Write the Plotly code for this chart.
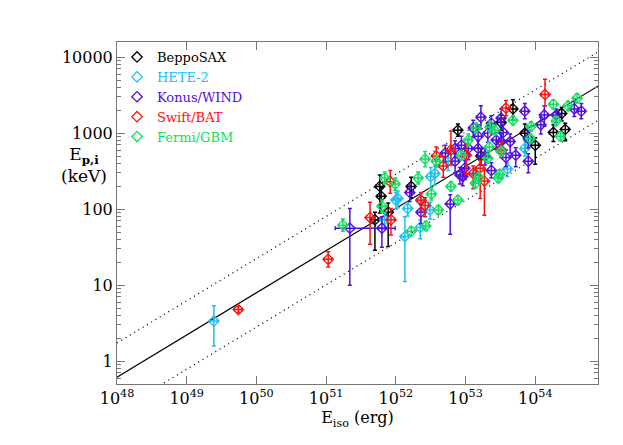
import plotly.graph_objects as go
import numpy as np

# log10(Eiso/erg), log10(Ep,i/keV), error up/down (dex)
sax_logE = [51.77, 51.79, 51.89, 51.70, 52.22, 52.89, 53.68, 53.51, 53.85, 54.00, 54.26, 54.38, 54.43, 53.22]
sax_logEp = [2.30, 2.17, 1.96, 1.86, 2.30, 3.04, 3.32, 3.14, 3.00, 2.84, 3.01, 3.26, 3.05, 2.70]
sax_eu = [0.15, 0.12, 0.12, 0.10, 0.12, 0.08, 0.12, 0.10, 0.12, 0.10, 0.10, 0.08, 0.08, 0.10]
sax_ed = [0.35, 0.20, 0.45, 0.40, 0.15, 0.08, 0.15, 0.10, 0.25, 0.25, 0.12, 0.10, 0.15, 0.12]

hete_logE = [49.39, 52.13, 52.00, 52.17, 51.84, 52.36, 52.35, 52.49, 52.50, 52.75, 52.56, 53.60, 53.85, 53.14, 52.03]
hete_logEp = [0.53, 1.64, 2.12, 2.01, 1.86, 2.11, 1.76, 1.99, 2.43, 2.63, 2.47, 2.53, 2.80, 2.45, 2.14]
hete_eu = [0.20, 0.26, 0.10, 0.08, 0.10, 0.10, 0.10, 0.10, 0.12, 0.10, 0.10, 0.08, 0.10, 0.10, 0.10]
hete_ed = [0.33, 0.59, 0.12, 0.10, 0.12, 0.12, 0.15, 0.12, 0.15, 0.12, 0.15, 0.10, 0.10, 0.10, 0.12]

konus_logE = [51.34, 51.80, 52.20, 52.36, 52.78, 52.96, 52.94, 53.18, 53.22, 53.37, 53.51, 53.54, 53.64, 53.72,
              53.90, 53.85, 54.13, 54.08, 54.30, 54.56, 54.66, 53.37, 53.58, 53.51, 53.44, 53.04, 52.85, 52.71,
              52.99, 52.92, 53.18, 53.28, 53.90, 52.85, 53.11, 53.32]
konus_logEp = [1.75, 1.75, 2.22, 1.96, 2.07, 2.43, 2.84, 2.96, 3.21, 3.13, 3.20, 3.01, 2.89, 2.71,
               2.63, 3.29, 3.24, 3.11, 3.24, 3.32, 3.29, 2.51, 2.68, 2.89, 2.91, 2.80, 2.80, 2.74,
               2.54, 2.45, 2.80, 2.70, 2.93, 2.63, 3.07, 3.00]
konus_eu = [0.26, 0.15, 0.10, 0.10, 0.12, 0.10, 0.12, 0.15, 0.15, 0.10, 0.12, 0.10, 0.10, 0.10,
            0.10, 0.10, 0.12, 0.10, 0.08, 0.10, 0.10, 0.10, 0.10, 0.10, 0.10, 0.12, 0.10, 0.10,
            0.10, 0.10, 0.10, 0.10, 0.10, 0.10, 0.10, 0.10]
konus_ed = [0.75, 0.25, 0.12, 0.15, 0.40, 0.12, 0.15, 0.15, 0.15, 0.12, 0.12, 0.12, 0.15, 0.15,
            0.15, 0.10, 0.15, 0.12, 0.10, 0.10, 0.10, 0.10, 0.12, 0.12, 0.12, 0.15, 0.12, 0.12,
            0.15, 0.12, 0.12, 0.12, 0.12, 0.15, 0.12, 0.12]
konus_exl = [0.21] + [0.05] * 35
konus_exu = [0.65] + [0.05] * 35

swift_logE = [51.03, 49.74, 51.63, 51.92, 51.93, 52.36, 52.42, 52.68, 52.79, 53.01, 53.21, 53.27, 53.11, 53.51, 53.58, 54.14, 52.58]
swift_logEp = [1.34, 0.68, 1.89, 2.36, 1.86, 2.12, 2.05, 2.57, 2.78, 2.71, 2.54, 2.37, 2.47, 2.78, 3.33, 3.51, 2.70]
swift_eu = [0.10, 0.04, 0.20, 0.15, 0.15, 0.10, 0.10, 0.12, 0.25, 0.15, 0.10, 0.15, 0.10, 0.10, 0.10, 0.20, 0.12]
swift_ed = [0.10, 0.04, 0.35, 0.15, 0.20, 0.15, 0.15, 0.15, 0.20, 0.25, 0.40, 0.45, 0.20, 0.10, 0.10, 0.15, 0.12]

fermi_logE = [51.24, 51.84, 51.99, 51.80, 52.32, 52.42, 52.58, 52.51, 52.61, 52.22, 52.43, 52.89, 52.79, 53.04,
              53.15, 53.35, 53.42, 53.34, 53.14, 53.19, 53.49, 53.47, 53.51, 53.68, 53.94, 53.93, 54.26, 54.30,
              54.36, 54.60, 54.47, 52.94, 53.32]
fermi_logEp = [1.79, 2.41, 2.33, 2.04, 2.41, 2.66, 2.63, 2.20, 1.99, 1.71, 1.78, 2.12, 2.30, 2.91,
               3.07, 3.08, 3.04, 2.82, 2.34, 2.42, 2.46, 2.41, 2.76, 3.17, 3.09, 2.93, 3.38, 3.16,
               2.96, 3.46, 3.36, 2.71, 2.67]
fermi_eu = [0.08, 0.08, 0.08, 0.08, 0.08, 0.10, 0.08, 0.08, 0.06, 0.06, 0.06, 0.06, 0.06, 0.08,
            0.06, 0.08, 0.06, 0.06, 0.06, 0.06, 0.06, 0.06, 0.06, 0.06, 0.06, 0.06, 0.06, 0.06,
            0.06, 0.06, 0.06, 0.06, 0.06]
fermi_ed = fermi_eu

# Fitted relation log Ep = q + m (log Eiso - 48), scatter band +-s
fit_q, fit_m, fit_s = -0.21, 0.555, 0.45
line_logE = [48.0, 54.95]

series = [
    ("BeppoSAX", "#000000", sax_logE, sax_logEp, sax_eu, sax_ed, None, None),
    ("HETE-2", "#20c0f0", hete_logE, hete_logEp, hete_eu, hete_ed, None, None),
    ("Konus/WIND", "#5010e0", konus_logE, konus_logEp, konus_eu, konus_ed, konus_exu, konus_exl),
    ("Swift/BAT", "#ff1010", swift_logE, swift_logEp, swift_eu, swift_ed, None, None),
    ("Fermi/GBM", "#10e060", fermi_logE, fermi_logEp, fermi_eu, fermi_ed, None, None),
]

fig = go.Figure()
lx = np.array(line_logE)
for off, dash, w in [(0, "solid", 1.2), (fit_s, "1px,4px", 1.3), (-fit_s, "1px,4px", 1.3)]:
    fig.add_trace(go.Scatter(x=10.0 ** lx, y=10.0 ** (fit_q + fit_m * (lx - 48) + off), mode="lines",
                             line=dict(color="black", width=w, dash=dash), showlegend=False, hoverinfo="skip"))

for name, col, le, lp, eu, ed, exu, exl in series:
    le = np.array(le); lp = np.array(lp); eu = np.array(eu); ed = np.array(ed)
    x = 10.0 ** le; y = 10.0 ** lp
    if exu is not None:
        ex = dict(type="data", symmetric=False, array=x * (10 ** np.array(exu) - 1),
                  arrayminus=x * (1 - 10 ** -np.array(exl)), color=col, thickness=1.5, width=2)
    else:
        ex = dict(type="data", array=x * 0.12, color=col, thickness=1.5, width=2)
    fig.add_trace(go.Scatter(
        x=x, y=y, mode="markers",
        name=f"<span style='color:{col}'>{name}</span>",
        marker=dict(symbol="diamond-open", size=8, color=col, line=dict(width=1.3, color=col)),
        error_y=dict(type="data", symmetric=False, array=y * (10 ** eu - 1),
                     arrayminus=y * (1 - 10 ** -ed), color=col, thickness=1.5, width=2),
        error_x=ex,
    ))

font = "DejaVu Serif, Liberation Serif, serif"
xt = [48, 49, 50, 51, 52, 53, 54]
yt = [1, 10, 100, 1000, 10000]
fig.update_layout(
    width=623, height=445, margin=dict(l=109, r=33, t=34, b=69),
    paper_bgcolor="white", plot_bgcolor="white",
    font=dict(family=font, size=16, color="black"),
    legend=dict(x=0.0, y=1.0, xanchor="left", yanchor="top", bgcolor="rgba(0,0,0,0)",
                font=dict(size=13), tracegroupgap=0, itemwidth=30),
    xaxis=dict(type="log", range=[48, 54.9], tickvals=[10.0 ** v for v in xt],
               ticktext=[f"10<sup>{v}</sup>" for v in xt], ticks="inside", ticklen=8,
               showline=True, linecolor="#777", tickcolor="#777", mirror="ticks", showgrid=False, zeroline=False,
               title=dict(text="E<sub>iso</sub> (erg)", font=dict(size=16), standoff=4)),
    yaxis=dict(type="log", range=[-0.3, 4.2], tickvals=yt, ticktext=[str(v) for v in yt],
               ticks="inside", ticklen=8, showline=True, linecolor="#777", tickcolor="#777", mirror="ticks",
               showgrid=False, zeroline=False,
               minor=dict(ticks="inside", ticklen=4, tickcolor="#777", dtick="D1", showgrid=False)),
)
fig.add_annotation(x=-0.12, y=0.64, xref="paper", yref="paper", showarrow=False, align="center",
                   text="E<sub><b>p,i</b></sub><br>(keV)", font=dict(size=17, family=font))
fig.write_html("out.html")
